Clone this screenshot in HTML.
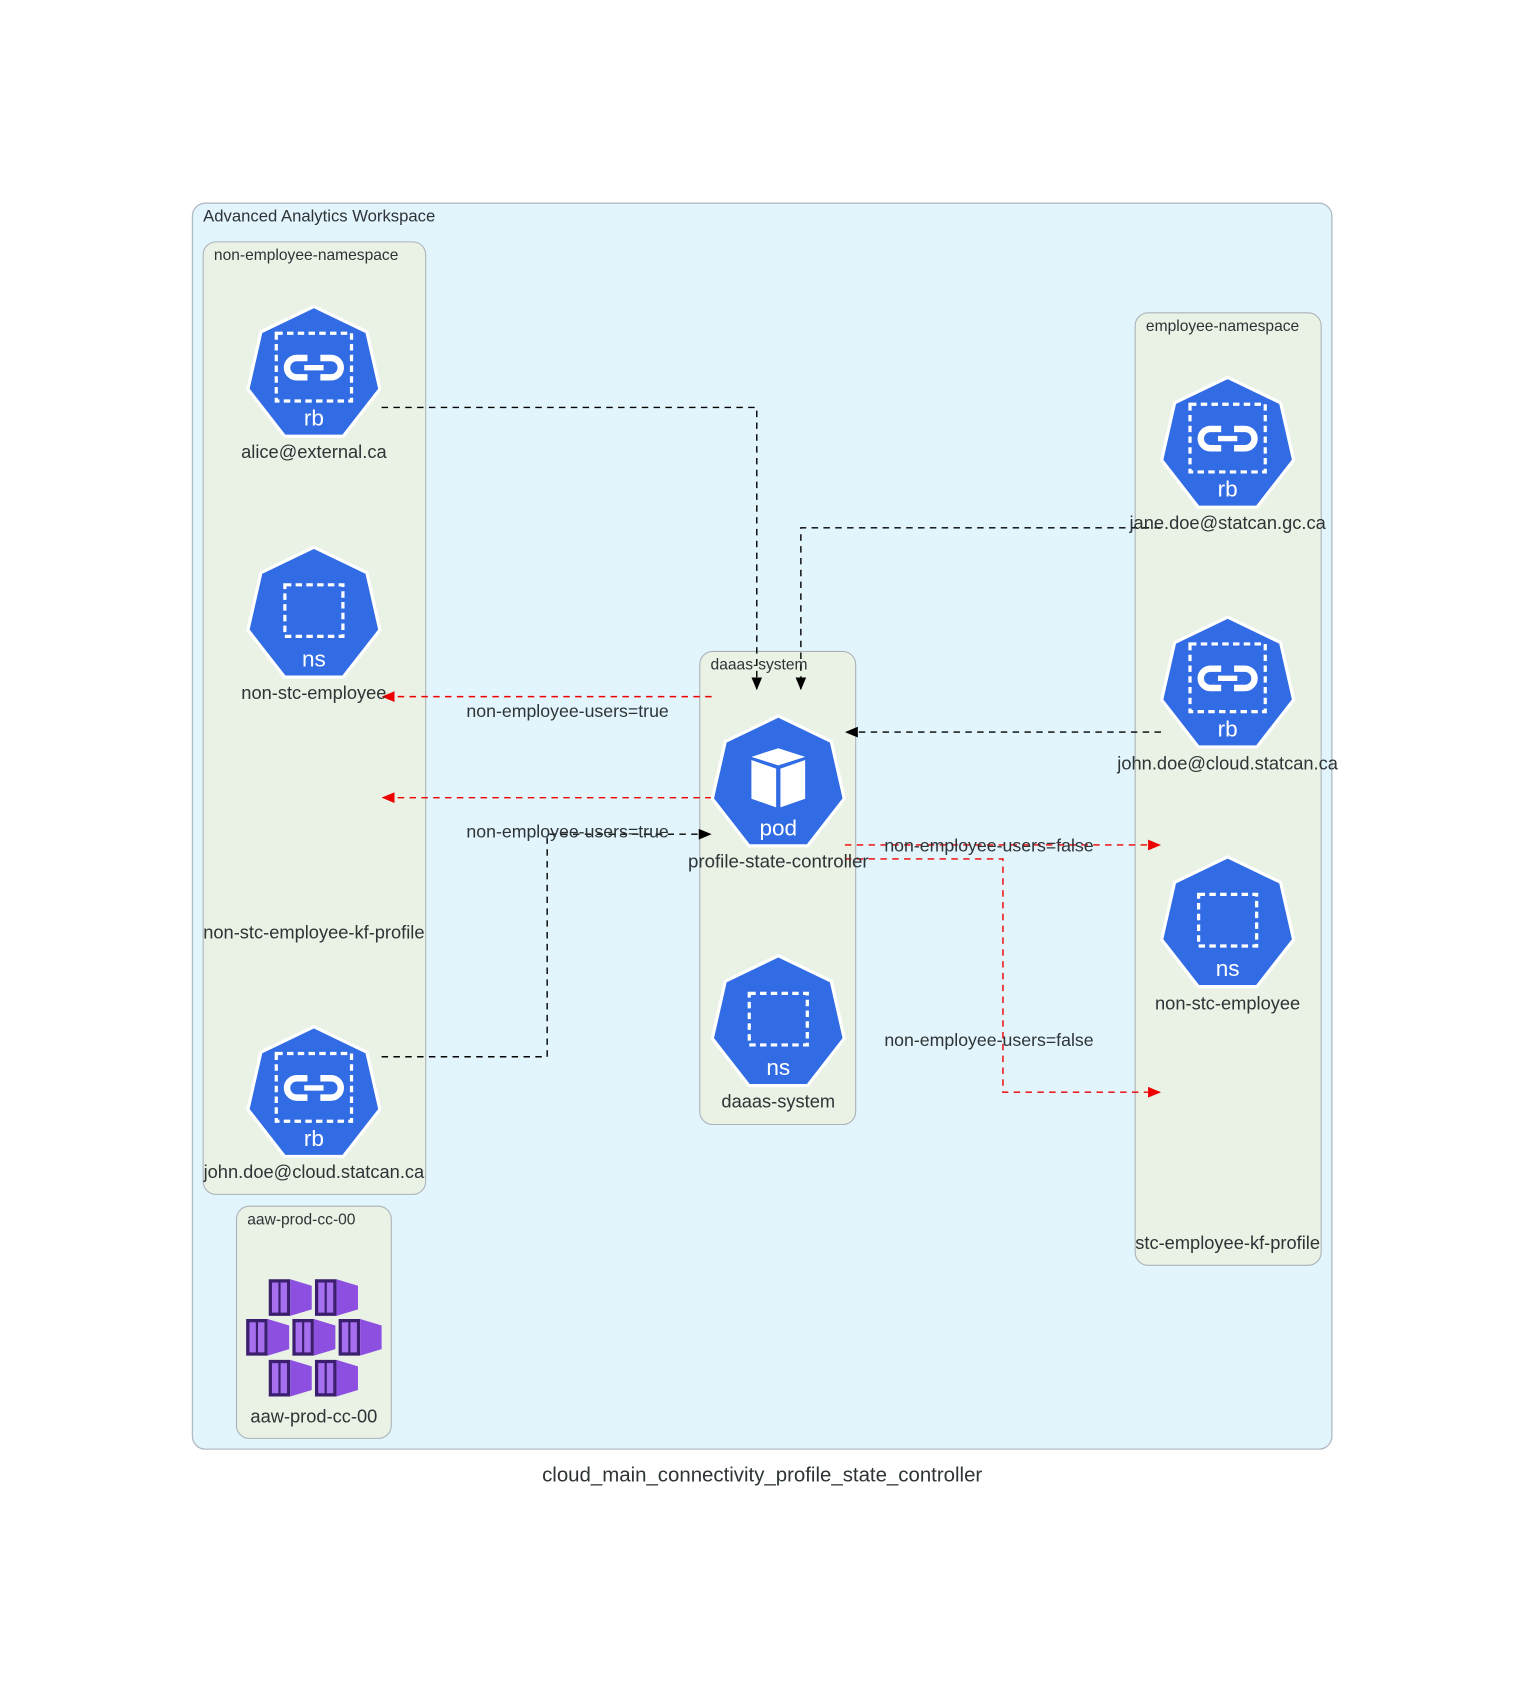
<!DOCTYPE html>
<html><head><meta charset="utf-8"><style>
html,body{margin:0;padding:0;background:#fff;}
svg{display:block;}
text{font-family:"Liberation Sans","DejaVu Sans",sans-serif;fill:#2d3436;}
</style></head><body>
<svg width="1524" height="1685" viewBox="0 0 1417.7 1567.4" preserveAspectRatio="none" xmlns="http://www.w3.org/2000/svg">
<defs>
<marker id="ab" markerWidth="12" markerHeight="10" refX="11" refY="5" orient="auto" markerUnits="userSpaceOnUse"><path d="M0,0 L12,5 L0,10z" fill="#000"/></marker>
<marker id="ar" markerWidth="12" markerHeight="10" refX="11" refY="5" orient="auto" markerUnits="userSpaceOnUse"><path d="M0,0 L12,5 L0,10z" fill="#e00"/></marker>
<g id="hept"><polygon points="0,-63 49.3,-39.3 61.4,14 27.3,57.8 -27.3,57.8 -61.4,14 -49.3,-39.3" fill="#326ce5" stroke="#fff" stroke-width="3" stroke-linejoin="round"/></g>
<g id="rb"><use href="#hept"/><rect x="-35" y="-38" width="70" height="63" fill="none" stroke="#fff" stroke-width="3" stroke-dasharray="6,4"/>
<path d="M-6,-15 h-10 a9,9 0 0 0 0,18 h10 M6,-15 h10 a9,9 0 0 1 0,18 h-10" fill="none" stroke="#fff" stroke-width="6"/><line x1="-9" y1="-6" x2="9" y2="-6" stroke="#fff" stroke-width="5"/>
<text x="0" y="48" text-anchor="middle" font-size="21" style="fill:#fff">rb</text></g>
<g id="ns"><use href="#hept"/><rect x="-27" y="-28" width="54" height="48" fill="none" stroke="#fff" stroke-width="3" stroke-dasharray="6,4"/>
<text x="0" y="48" text-anchor="middle" font-size="21" style="fill:#fff">ns</text></g>
<g id="ctr"><path d="M0,0 h20 v34 h-20z" fill="#3b1f6e"/><rect x="3" y="3" width="6" height="28" fill="#a56ff0"/><rect x="11" y="3" width="6" height="28" fill="#a56ff0"/><path d="M20,0 L40,6 L40,28 L20,34z" fill="#8c4fe0"/></g>
</defs>
<rect x="179" y="189" width="1060" height="1159" rx="12" fill="#e2f4fc" stroke="#b0bac2" stroke-width="1.2"/>
<text x="189" y="206" font-size="15.5">Advanced Analytics Workspace</text>
<rect x="189" y="225" width="207" height="886" rx="12" fill="#eaf1e5" stroke="#aab2b8"/>
<text x="199" y="242" font-size="14.5">non-employee-namespace</text>
<rect x="1056" y="291" width="173" height="886" rx="12" fill="#eaf1e5" stroke="#aab2b8"/>
<text x="1066" y="308" font-size="14.5">employee-namespace</text>
<rect x="651" y="606" width="145" height="440" rx="12" fill="#eaf1e5" stroke="#aab2b8"/>
<text x="661" y="623" font-size="14.5">daaas-system</text>
<rect x="220" y="1122" width="144" height="216" rx="12" fill="#eaf1e5" stroke="#aab2b8"/>
<text x="230" y="1139" font-size="14.5">aaw-prod-cc-00</text>

<g fill="none" stroke-width="1.3" stroke-dasharray="6,5">
<path d="M355,379 H704 V641" stroke="#000" marker-end="url(#ab)"/>
<path d="M1080,491 H745 V641" stroke="#000" marker-end="url(#ab)"/>
<path d="M1080,681 H787" stroke="#000" marker-end="url(#ab)"/>
<path d="M355,983 H509 V776 H661" stroke="#000" marker-end="url(#ab)"/>
<path d="M662,648 H356" stroke="#e00" marker-end="url(#ar)"/>
<path d="M662,742 H356" stroke="#e00" marker-end="url(#ar)"/>
<path d="M786,786 H1079" stroke="#e00" marker-end="url(#ar)"/>
<path d="M786,799 H933 V1016 H1079" stroke="#e00" marker-end="url(#ar)"/>
</g>
<g font-size="16.5" text-anchor="middle">
<text x="528" y="667">non-employee-users=true</text>
<text x="528" y="779">non-employee-users=true</text>
<text x="920" y="792">non-employee-users=false</text>
<text x="920" y="973">non-employee-users=false</text>
</g>

<use href="#rb" x="292" y="348"/>
<use href="#ns" x="292" y="572"/>
<use href="#rb" x="292" y="1018"/>
<use href="#rb" x="1142" y="414"/>
<use href="#rb" x="1142" y="637"/>
<use href="#ns" x="1142" y="860"/>
<use href="#ns" x="724" y="952"/>
<g transform="translate(724,729)"><use href="#hept"/>
<path d="M0,-33 L25,-25 L0,-17 L-25,-25z" fill="#fff"/><path d="M-25,-22 L-2,-14 V22 L-25,14z" fill="#fff"/><path d="M25,-22 L2,-14 V22 L25,14z" fill="#fff"/>
<text x="0" y="48" text-anchor="middle" font-size="21" style="fill:#fff">pod</text></g>

<use href="#ctr" x="250" y="1190"/><use href="#ctr" x="293" y="1190"/>
<use href="#ctr" x="229" y="1227"/><use href="#ctr" x="272" y="1227"/><use href="#ctr" x="315" y="1227"/>
<use href="#ctr" x="250" y="1265"/><use href="#ctr" x="293" y="1265"/>

<g font-size="17" text-anchor="middle">
<text x="292" y="426">alice@external.ca</text>
<text x="292" y="650">non-stc-employee</text>
<text x="292" y="873">non-stc-employee-kf-profile</text>
<text x="292" y="1096">john.doe@cloud.statcan.ca</text>
<text x="1142" y="492">jane.doe@statcan.gc.ca</text>
<text x="1142" y="716">john.doe@cloud.statcan.ca</text>
<text x="1142" y="939">non-stc-employee</text>
<text x="1142" y="1162">stc-employee-kf-profile</text>
<text x="724" y="807" textLength="168" lengthAdjust="spacingAndGlyphs">profile-state-controller</text>
<text x="724" y="1030">daaas-system</text>
<text x="292" y="1323">aaw-prod-cc-00</text>
</g>
<text x="709" y="1378" font-size="19" text-anchor="middle">cloud_main_connectivity_profile_state_controller</text>
</svg>
</body></html>
